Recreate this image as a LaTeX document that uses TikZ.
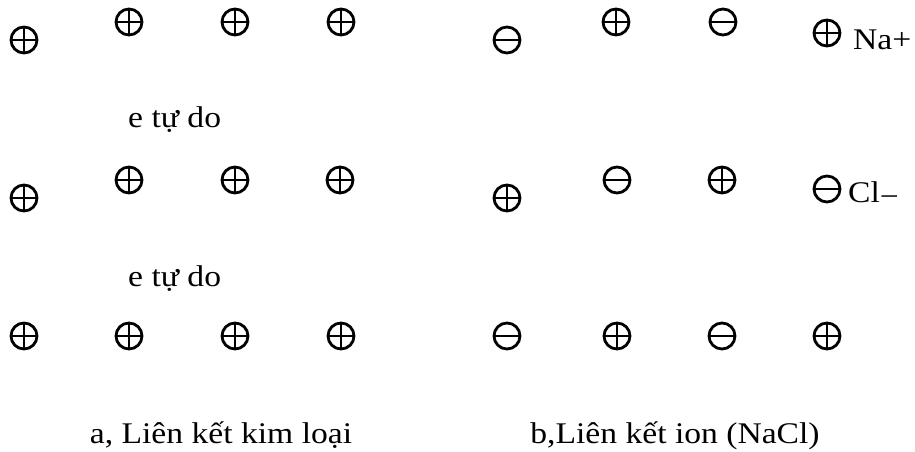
\documentclass[tikz,border=0pt]{standalone}
\usepackage{fontspec}
\setmainfont[FakeStretch=1.12]{Liberation Serif}
\begin{document}
\begin{tikzpicture}[x=1pt,y=1pt,
  ion/.style={circle, draw, line width=2.8pt, minimum size=26pt, inner sep=0pt},
  cation/.style={ion, path picture={\draw[line width=2.4pt]
     (path picture bounding box.north) -- (path picture bounding box.south)
     (path picture bounding box.west) -- (path picture bounding box.east);}},
  anion/.style={ion, path picture={\draw[line width=2.4pt]
     (path picture bounding box.west) -- (path picture bounding box.east);}},
  lbl/.style={inner sep=0pt, anchor=base west, font=\fontsize{30}{34}\selectfont},
  captiontext/.style={inner sep=0pt, anchor=base, font=\fontsize{30}{34}\selectfont}]
\useasboundingbox (0,0) rectangle (915,452);
% metal
\node[cation] (a11) at (24,412) {};
\node[cation] (a12) at (129,430) {};
\node[cation] (a13) at (235,430) {};
\node[cation] (a14) at (341,430) {};
\node[cation] (a21) at (24,254) {};
\node[cation] (a22) at (129,272) {};
\node[cation] (a23) at (235,272) {};
\node[cation] (a24) at (340,272) {};
\node[cation] (a31) at (24,116) {};
\node[cation] (a32) at (129,116) {};
\node[cation] (a33) at (235,116) {};
\node[cation] (a34) at (341,116) {};
\node[lbl] (e1) at (128,324) {e tự do};
\node[lbl] (e2) at (128,165) {e tự do};
% ionic
\node[anion] (b11) at (507,412) {};
\node[cation] (b12) at (616,430) {};
\node[anion] (b13) at (723,430) {};
\node[cation] (b14) at (827,419) {};
\node[lbl] (na) at (853,402) {Na+};
\node[cation] (b21) at (507,254) {};
\node[anion] (b22) at (617,272) {};
\node[cation] (b23) at (722,272) {};
\node[anion] (b24) at (827,263) {};
\node[lbl] (cl) at (848,249) {Cl\raisebox{-3.5pt}{−}};
\node[anion] (b31) at (507,116) {};
\node[cation] (b32) at (617,116) {};
\node[anion] (b33) at (722,116) {};
\node[cation] (b34) at (827,116) {};
% captions
\node[captiontext] (ca) at (221,8) {a, Liên kết kim loại};
\node[captiontext] (cb) at (675,8) {b,Liên kết ion (NaCl)};
\end{tikzpicture}
\end{document}
